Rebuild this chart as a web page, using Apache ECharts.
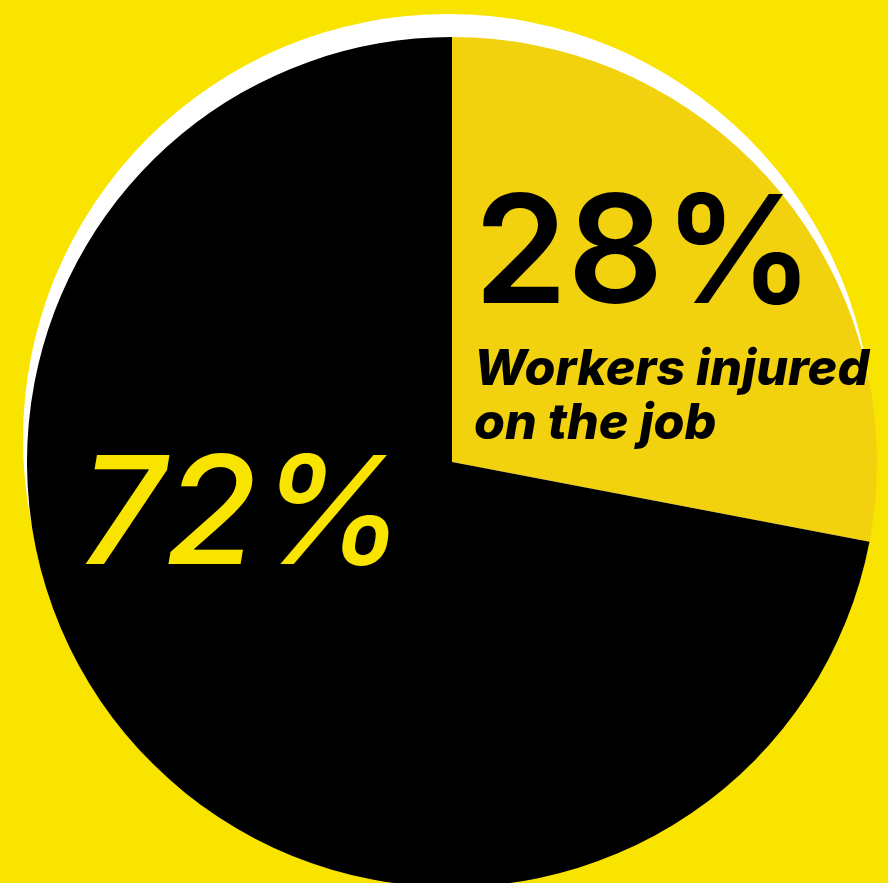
<!DOCTYPE html>
<html><head><meta charset="utf-8">
<script src="https://cdn.jsdelivr.net/npm/echarts@6.0.0/dist/echarts.min.js"></script>
<style>html,body{margin:0;padding:0;background:#f9e400;overflow:hidden}#c{width:888px;height:883px}</style>
</head><body><div id="c"></div>
<script>
const categories = ['Workers injured on the job', 'Other workers'];
const values = [28, 72];
const valueLabels = ['28%', '72%'];
const captionLines = ['Workers injured', 'on the job'];

const sliceColors = ['#f2d10f', '#000000'];
const BG = '#f9e400';

const chart = echarts.init(document.getElementById('c'), null, {renderer: 'canvas'});

const mainData = categories.map((name, i) => ({
  name: name,
  value: values[i],
  itemStyle: {color: sliceColors[i]},
  label: i === 0 ? {
    formatter: '{big|' + valueLabels[0] + '}\n{sub|' + captionLines[0] + '}\n{sub|' + captionLines[1] + '}',
    rich: {
      big: {fontFamily: 'Inter', fontSize: 150, fontWeight: 600, color: '#000', lineHeight: 170},
      sub: {fontFamily: 'Inter', fontSize: 50, fontWeight: 800, fontStyle: 'italic', color: '#000', lineHeight: 54}
    }
  } : {
    formatter: '{big|' + valueLabels[1] + '}',
    rich: {
      big: {fontFamily: 'Inter', fontSize: 150, fontWeight: 500, fontStyle: 'italic', color: BG, lineHeight: 150}
    }
  }
}));

chart.setOption({
  backgroundColor: BG,
  animation: false,
  series: [
    {
      type: 'pie',
      silent: true,
      z: 1,
      center: [448, 439],
      radius: 425,
      startAngle: 90,
      label: {show: false},
      labelLine: {show: false},
      data: [{name: 'rim', value: 1, itemStyle: {color: '#ffffff'}}]
    },
    {
      type: 'pie',
      silent: true,
      z: 2,
      center: [452, 462],
      radius: 425,
      startAngle: 90,
      clockwise: true,
      itemStyle: {borderWidth: 0},
      label: {show: true, position: 'inside'},
      labelLine: {show: false},
      labelLayout: function (p) {
        if (p.dataIndex === 0) {
          return {x: 474, y: 173, align: 'left', verticalAlign: 'top'};
        }
        return {x: 79, y: 519, align: 'left', verticalAlign: 'middle'};
      },
      data: mainData
    }
  ]
});
</script>
</body></html>
